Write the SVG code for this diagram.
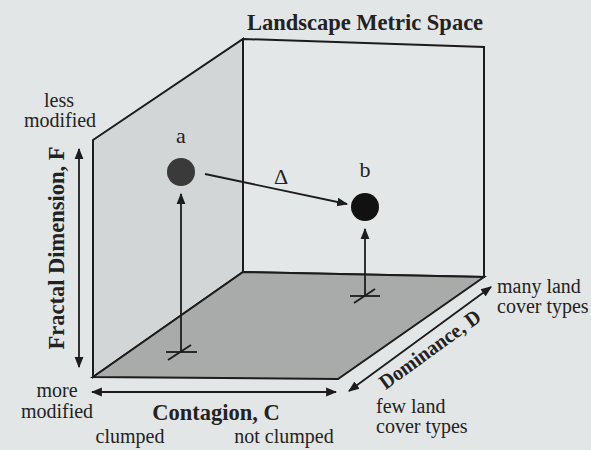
<svg xmlns="http://www.w3.org/2000/svg" width="591" height="450" viewBox="0 0 591 450">
<defs>
<marker id="ah" viewBox="0 0 10 10" refX="9" refY="5" markerWidth="11" markerHeight="11" markerUnits="userSpaceOnUse" orient="auto-start-reverse">
<path d="M0,1 L10,5 L0,9 Z" fill="#1c1c1c"/>
</marker>
<style>
.edge{stroke:#1c1c1c;stroke-width:2;stroke-linejoin:miter}
.ln{fill:none;stroke:#1c1c1c;stroke-width:1.8}
.t{font-family:"Liberation Serif","Times New Roman",serif;fill:#222;font-size:20px}
.b{font-weight:bold;font-size:22.5px}
.pl{font-size:22px}
</style>
</defs>
<rect width="591" height="450" fill="#e3e6e6"/>
<g id="box">
<polygon points="243,39 484,47 484,277 243,272" fill="#e4e7e7" class="edge"/>
<polygon points="93,140 243,39 243,272 93,377" fill="#d3d6d6" class="edge"/>
<polygon points="93,377 243,272 484,277 338,379" fill="#a9aaaa" class="edge"/>
</g>
<g id="title"><text class="t b" x="365" y="30" text-anchor="middle">Landscape Metric Space</text></g>
<g id="axis-F">
<line class="ln" x1="79" y1="367" x2="79" y2="149" marker-start="url(#ah)" marker-end="url(#ah)"/>
<text class="t b" transform="translate(64,248) rotate(-90)" text-anchor="middle">Fractal Dimension, F</text>
<text class="t" x="59" y="107" text-anchor="middle">less</text>
<text class="t" x="60" y="127" text-anchor="middle">modified</text>
<text class="t" x="57" y="397" text-anchor="middle">more</text>
<text class="t" x="57" y="418" text-anchor="middle">modified</text>
</g>
<g id="axis-C">
<line class="ln" x1="92" y1="392" x2="336" y2="392" marker-start="url(#ah)" marker-end="url(#ah)"/>
<text class="t b" x="216" y="420" text-anchor="middle">Contagion, C</text>
<text class="t" x="130" y="443" text-anchor="middle">clumped</text>
<text class="t" x="284" y="443" text-anchor="middle">not clumped</text>
</g>
<g id="axis-D">
<line class="ln" x1="349" y1="391" x2="491" y2="287" marker-start="url(#ah)" marker-end="url(#ah)"/>
<text class="t b" transform="translate(434,355) rotate(-36)" text-anchor="middle" font-size="21" textLength="120" lengthAdjust="spacingAndGlyphs" style="font-size:21px">Dominance, D</text>
<text class="t" x="497" y="293">many land</text>
<text class="t" x="497" y="313">cover types</text>
<text class="t" x="376" y="413">few land</text>
<text class="t" x="376" y="433">cover types</text>
</g>
<g id="point-a">
<circle cx="181" cy="172" r="14" fill="#3a3a3a"/>
<text class="t pl" x="181" y="143" text-anchor="middle">a</text>
<line class="ln" x1="181" y1="353" x2="181" y2="194" marker-end="url(#ah)"/>
<line class="ln" x1="166" y1="352" x2="197" y2="352"/>
<line class="ln" x1="168" y1="360" x2="191" y2="345"/>
</g>
<g id="point-b">
<circle cx="365" cy="207" r="14" fill="#111"/>
<text class="t pl" x="365" y="177" text-anchor="middle">b</text>
<line class="ln" x1="365" y1="296" x2="365" y2="229" marker-end="url(#ah)"/>
<line class="ln" x1="350" y1="296" x2="380" y2="296"/>
<line class="ln" x1="354" y1="303" x2="375" y2="289"/>
</g>
<g id="connectors">
<line class="ln" x1="205" y1="174" x2="347" y2="204" marker-end="url(#ah)"/>
<text class="t pl" x="281" y="184" text-anchor="middle">Δ</text>
</g>
</svg>
